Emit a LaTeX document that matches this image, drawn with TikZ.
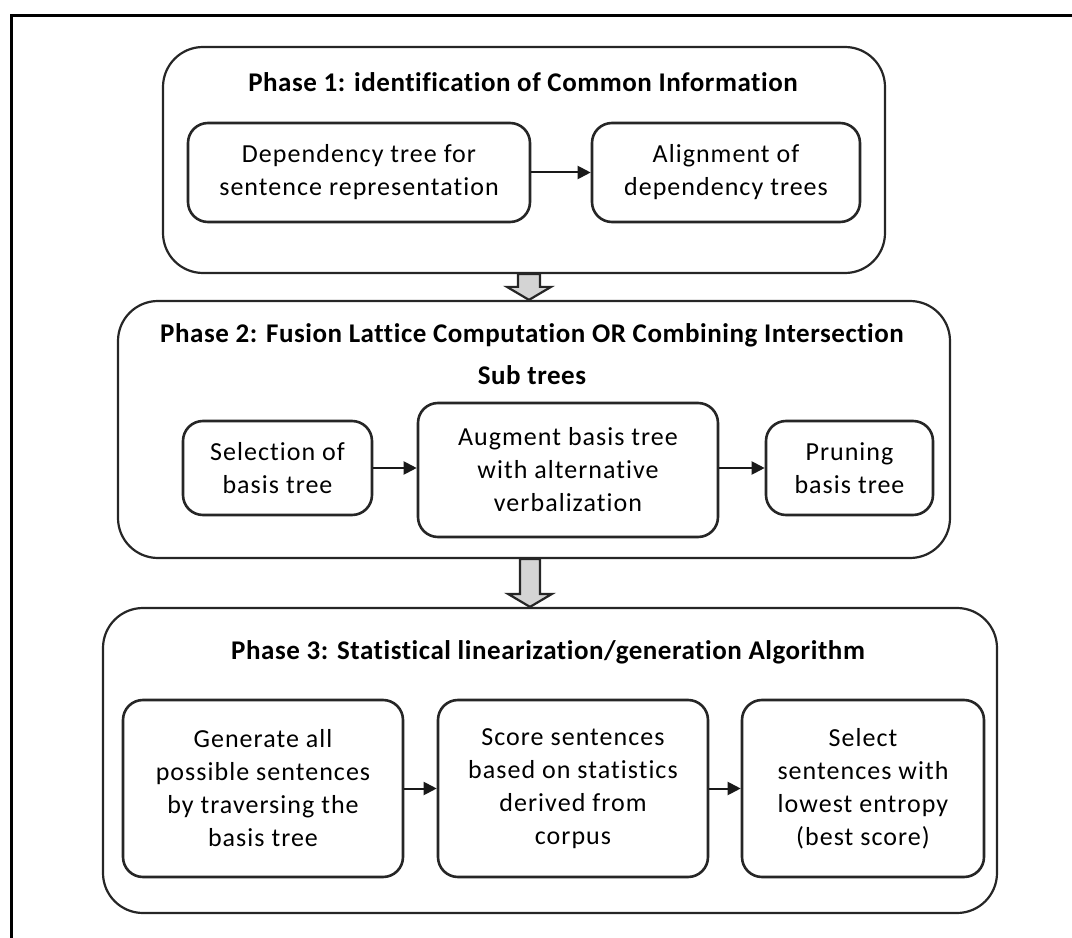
\documentclass[tikz,border=0pt]{standalone}
\usepackage{fontspec}
\setmainfont{Carlito}[Ligatures=NoCommon]
\newfontfamily\stepfont{Carlito}[Ligatures=NoCommon,LetterSpace=4]
\newfontfamily\titlefont{Carlito}[Ligatures=NoCommon,LetterSpace=2]
\usetikzlibrary{arrows.meta,calc}
\newlength\upx
\setlength\upx{0.75pt}
\begin{document}
\begin{tikzpicture}[x=0.75pt,y=-0.75pt,
  phase/.style={draw=black!85,line width=2.2\upx,rounded corners=40\upx,inner sep=0pt},
  stepbox/.style={draw=black!85,line width=2.6\upx,rounded corners=20\upx,inner sep=0pt,
    align=center,font=\stepfont\fontsize{26\upx}{33\upx}\selectfont},
  title/.style={font=\titlefont\bfseries\fontsize{27\upx}{42\upx}\selectfont,align=center},
  link/.style={draw=black!90,line width=2\upx,-{Triangle[length=9.75pt,width=9.75pt]}},
  blockarrow/.style={draw=black!85,line width=2.2\upx,fill=black!17,line join=miter}]
\useasboundingbox (0,0) rectangle (1072,938);
\clip (0,0) rectangle (1072,938);
% outer frame
\draw[line width=3\upx] (11,16) rectangle (1120,990);

% phase containers
\node[phase,minimum width=722\upx,minimum height=226\upx] (p1) at (524,160) {};
\node[phase,minimum width=832\upx,minimum height=257\upx] (p2) at (534,429.5) {};
\node[phase,minimum width=894\upx,minimum height=305\upx] (p3) at (550,760.5) {};

% phase titles
\node[title] (t1) at (523,82) {Phase 1: identification of Common Information};
\node[title] (t2) at (532,354) {Phase 2: Fusion Lattice Computation OR Combining Intersection\\Sub trees};
\node[title] (t3) at (548,652) {Phase 3: Statistical linearization/generation Algorithm};

% phase 1 steps
\node[stepbox,minimum width=342\upx,minimum height=99\upx] (d1) at (359,172.5) {Dependency tree for\\sentence representation};
\node[stepbox,minimum width=268\upx,minimum height=99\upx] (d2) at (726,172.5) {Alignment of\\dependency trees};

% phase 2 steps
\node[stepbox,minimum width=189\upx,minimum height=94\upx] (s1) at (277.5,468) {Selection of\\basis tree};
\node[stepbox,minimum width=300\upx,minimum height=134\upx] (s2) at (568,470) {Augment basis tree\\with alternative\\verbalization};
\node[stepbox,minimum width=167\upx,minimum height=94\upx] (s3) at (849.5,468) {Pruning\\basis tree};

% phase 3 steps
\node[stepbox,minimum width=280\upx,minimum height=177\upx] (g1) at (263,788.5) {Generate all\\possible sentences\\by traversing the\\basis tree};
\node[stepbox,minimum width=270\upx,minimum height=177\upx] (g2) at (573,788.5) {Score sentences\\based on statistics\\derived from\\corpus};
\node[stepbox,minimum width=242\upx,minimum height=177\upx] (g3) at (863,788.5) {Select\\sentences with\\lowest entropy\\(best score)};

% connectors inside phases, sitting a little above the box centres
\draw[link,yshift=2\upx] (d1) -- (d2);
\draw[link,yshift=8\upx] (s1.east) -- (s1.east -| s2.west);
\draw[link,yshift=8\upx] (s2.east |- s3.west) -- (s3.west);
\draw[link,yshift=6\upx] (g1) -- (g2);
\draw[link,yshift=6\upx] (g2) -- (g3);

% block arrows between phases
\coordinate (a1s) at ($(p1.south)+(5,0)$);
\coordinate (a1e) at ($(p2.north)+(-5,0)$);
\coordinate (a2s) at ($(p2.south)+(-4,0)$);
\coordinate (a2e) at ($(p3.north)+(-20,0)$);
\draw[blockarrow] ($(a1s)+(-11,0)$) -- ($(a1s)+(11,0)$) -- ($(a1e)+(11,-13)$) -- ($(a1e)+(22,-13)$)
  -- (a1e) -- ($(a1e)+(-22,-13)$) -- ($(a1e)+(-11,-13)$) -- cycle;
\draw[blockarrow] ($(a2s)+(-10,0)$) -- ($(a2s)+(10,0)$) -- ($(a2e)+(10,-13)$) -- ($(a2e)+(22,-13)$)
  -- (a2e) -- ($(a2e)+(-22,-13)$) -- ($(a2e)+(-10,-13)$) -- cycle;
\end{tikzpicture}
\end{document}
